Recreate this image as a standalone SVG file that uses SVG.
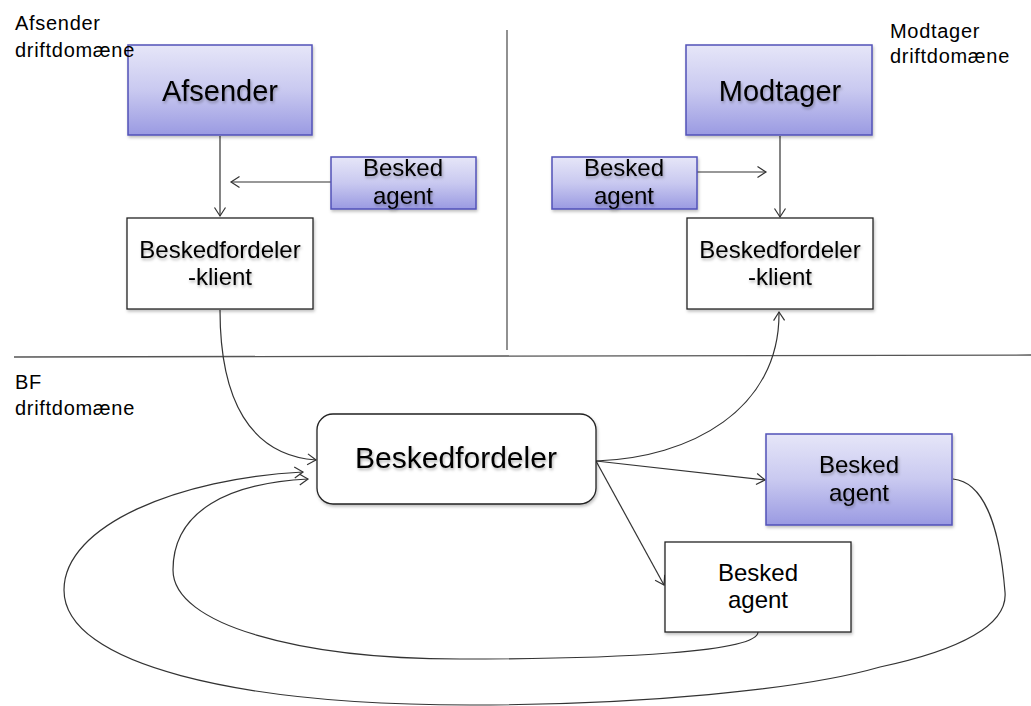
<svg xmlns="http://www.w3.org/2000/svg" width="1031" height="706" viewBox="0 0 1031 706">
<defs>
<linearGradient id="blue" x1="0" y1="0" x2="0" y2="1">
<stop offset="0" stop-color="#e6e6f8"/>
<stop offset="0.5" stop-color="#c9c9f0"/>
<stop offset="1" stop-color="#9a9ae2"/>
</linearGradient>
<filter id="ts" x="-10%" y="-30%" width="130%" height="170%">
<feDropShadow dx="1" dy="2" stdDeviation="1.5" flood-color="#000" flood-opacity="0.3"/>
</filter>
<filter id="bs" x="-10%" y="-10%" width="130%" height="130%">
<feDropShadow dx="1" dy="2" stdDeviation="1.5" flood-color="#000" flood-opacity="0.25"/>
</filter>
<marker id="arr" viewBox="-10 -7 12 14" markerWidth="12" markerHeight="14" refX="0" refY="0" orient="auto" markerUnits="userSpaceOnUse">
<path d="M-8.5,-5.5 L0,0 L-8.5,5.5" fill="none" stroke="#333" stroke-width="1.2"/>
</marker>
<style>
text{font-family:"Liberation Sans",Arial,sans-serif;fill:#000;}
.lab{font-size:20px;letter-spacing:0.7px;}
.ttl{font-size:29px;text-anchor:middle;}
.mid{font-size:24px;text-anchor:middle;}
.big{font-size:30px;text-anchor:middle;}
.sh{filter:url(#ts);}
.bluebox{fill:url(#blue);stroke:#5252b8;stroke-width:1.5;filter:url(#bs);}
.whitebox{fill:#fff;stroke:#222;stroke-width:1.3;filter:url(#bs);}
.con{fill:none;stroke:#333;stroke-width:1.2;}
.div{fill:none;stroke:#555;stroke-width:1.3;}
</style>
</defs>
<rect width="1031" height="706" fill="#fff"/>

<g id="dividers">
<line class="div" x1="507" y1="30" x2="507" y2="350"/>
<line class="div" x1="14" y1="357" x2="1031" y2="355"/>
</g>

<g id="connectors">
<line class="con" x1="220" y1="136" x2="220" y2="216" marker-end="url(#arr)"/>
<line class="con" x1="331" y1="182" x2="231" y2="182" marker-end="url(#arr)"/>
<line class="con" x1="780" y1="136" x2="780" y2="217" marker-end="url(#arr)"/>
<line class="con" x1="697" y1="172" x2="766" y2="172" marker-end="url(#arr)"/>
<path class="con" d="M220,310 C220,400 250,455 316,460" marker-end="url(#arr)"/>
<path class="con" d="M596,461 C690,458 780,410 779,312" marker-end="url(#arr)"/>
<line class="con" x1="596" y1="461" x2="765" y2="480" marker-end="url(#arr)"/>
<line class="con" x1="596" y1="461" x2="664" y2="585" marker-end="url(#arr)"/>
<path class="con" d="M953,479 C985,482 1000,530 1005,592 C1008,625 960,650 880,667 C800,690 640,705 470,705 C240,705 64,665 64,590 C64,525 180,478 303,472" marker-end="url(#arr)"/>
<path class="con" d="M758,632 C758,652 620,659 460,659 C300,659 173,625 173,570 C173,510 230,483 308,479" marker-end="url(#arr)"/>
</g>

<g id="afsender">
<rect class="bluebox" x="128" y="45" width="184" height="90"/>
<text class="ttl sh" x="220" y="101">Afsender</text>
</g>

<g id="besked-agent-afsender">
<rect class="bluebox" x="331" y="157" width="145" height="52"/>
<text class="mid sh" x="403" y="176">Besked</text>
<text class="mid sh" x="403" y="204">agent</text>
</g>

<g id="klient-afsender">
<rect class="whitebox" x="127" y="218" width="186" height="91"/>
<text class="mid sh" x="220" y="258">Beskedfordeler</text>
<text class="mid sh" x="220" y="285">-klient</text>
</g>

<g id="modtager">
<rect class="bluebox" x="686" y="45" width="186" height="90"/>
<text class="ttl sh" x="780" y="101">Modtager</text>
</g>

<g id="besked-agent-modtager">
<rect class="bluebox" x="552" y="157" width="145" height="52"/>
<text class="mid sh" x="624" y="176">Besked</text>
<text class="mid sh" x="624" y="204">agent</text>
</g>

<g id="klient-modtager">
<rect class="whitebox" x="687" y="218" width="186" height="91"/>
<text class="mid sh" x="780" y="258">Beskedfordeler</text>
<text class="mid sh" x="780" y="285">-klient</text>
</g>

<g id="beskedfordeler">
<rect class="whitebox" x="317" y="414" width="279" height="90" rx="16" ry="16"/>
<text class="big sh" x="456" y="468">Beskedfordeler</text>
</g>

<g id="besked-agent-blue">
<rect class="bluebox" x="766" y="434" width="186" height="91"/>
<text class="mid sh" x="859" y="473">Besked</text>
<text class="mid sh" x="859" y="501">agent</text>
</g>

<g id="besked-agent-white">
<rect class="whitebox" x="665" y="542" width="186" height="90"/>
<text class="mid" x="758" y="581">Besked</text>
<text class="mid" x="758" y="608">agent</text>
</g>

<g id="domain-labels">
<text class="lab" x="15" y="30">Afsender</text>
<text class="lab" x="15" y="57">driftdomæne</text>
<text class="lab" x="890" y="38">Modtager</text>
<text class="lab" x="890" y="63">driftdomæne</text>
<text class="lab" x="15" y="389">BF</text>
<text class="lab" x="15" y="415">driftdomæne</text>
</g>
</svg>
